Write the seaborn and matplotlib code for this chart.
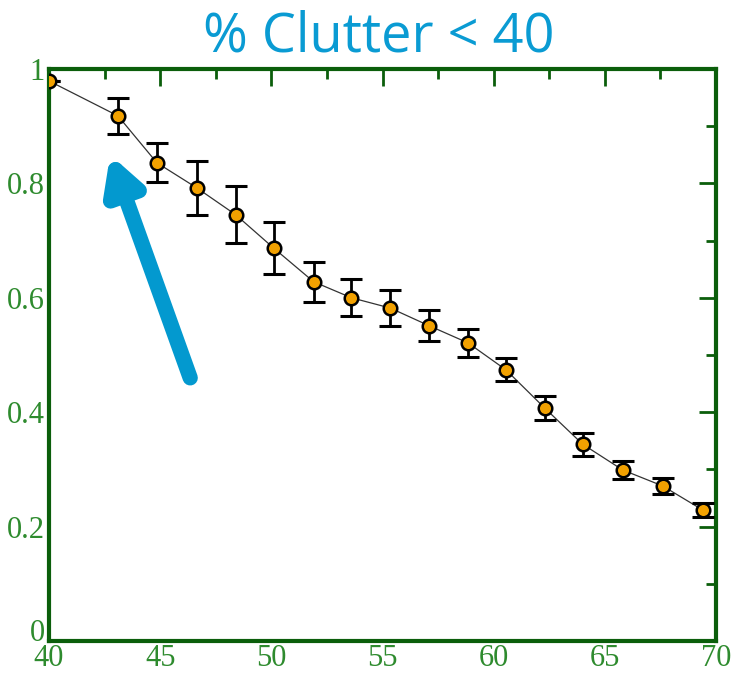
import matplotlib
matplotlib.use("Agg")
import matplotlib.pyplot as plt
import matplotlib.transforms as mtransforms
import seaborn as sns
from matplotlib.ticker import MultipleLocator

# data
x_vals = [40.0, 43.1, 44.85, 46.65, 48.4, 50.1, 51.9, 53.6, 55.35, 57.1,
          58.85, 60.55, 62.3, 64.0, 65.8, 67.6, 69.4]
y_vals = [0.979, 0.918, 0.836, 0.792, 0.745, 0.687, 0.628, 0.600, 0.582, 0.551,
          0.521, 0.474, 0.407, 0.344, 0.299, 0.271, 0.229]
y_err = [0.0, 0.032, 0.034, 0.047, 0.050, 0.046, 0.035, 0.032, 0.032, 0.027,
         0.024, 0.020, 0.021, 0.020, 0.016, 0.014, 0.012]
x_ticks = [40, 45, 50, 55, 60, 65, 70]
y_ticks = [0, 0.2, 0.4, 0.6, 0.8, 1.0]
y_tick_labels = ["0", "0.2", "0.4", "0.6", "0.8", "1"]

sns.set_style("white")
plt.rcParams["font.family"] = ["Liberation Serif", "DejaVu Serif"]

green = "#2e8b2e"
frame = "#0b5e0b"

fig = plt.figure(figsize=(7.35, 6.76), dpi=100)
ax = fig.add_axes([0.0667, 0.0518, 0.9075, 0.8462])

# thin connecting line
sns.lineplot(x=x_vals, y=y_vals, ax=ax, color="#333333", linewidth=0.9,
             estimator=None, sort=False, zorder=2)
# error bars
ax.errorbar(x_vals, y_vals, yerr=y_err, fmt="none", ecolor="black",
            elinewidth=2, capsize=8, capthick=2.2, zorder=3)
# markers
sns.scatterplot(x=x_vals, y=y_vals, ax=ax, color="#f2a100", edgecolor="black",
                linewidth=1.8, s=95, zorder=4)

ax.set_xlim(40, 70)
ax.set_ylim(0, 1)
ax.set_xticks(x_ticks)
ax.set_xticklabels([str(t) for t in x_ticks])
ax.set_yticks(y_ticks)
ax.set_yticklabels(y_tick_labels)
ax.xaxis.set_minor_locator(MultipleLocator(2.5))
ax.yaxis.set_minor_locator(MultipleLocator(0.1))

ax.tick_params(which="both", direction="in", top=True, right=True,
               color=frame, width=2, labelcolor=green, labelsize=22)
ax.tick_params(axis="y", pad=3)
ax.tick_params(axis="x", pad=2)
ax.tick_params(which="major", length=12)
ax.tick_params(which="minor", length=7)
for sp in ax.spines.values():
    sp.set_color(frame)
    sp.set_linewidth(3)
# lift the "0" a little so it clears the "40"
zero = ax.get_yticklabels()[0]
zero.set_transform(zero.get_transform() +
                   mtransforms.ScaledTranslation(0, 8 / 72, fig.dpi_scale_trans))

# blue arrow
ax.annotate("", xy=(42.75, 0.85), xytext=(46.35, 0.46),
            arrowprops=dict(arrowstyle="-|>,head_length=2.0,head_width=1.1",
                            color="#0399cf", lw=11, shrinkA=0, shrinkB=0),
            zorder=5)

fig.text(0.515, 0.945, "% Clutter < 40", ha="center", va="center",
         fontsize=39, color="#0a9bd3", family=["Open Sans", "DejaVu Sans"])

fig.savefig("out.png", dpi=100)
